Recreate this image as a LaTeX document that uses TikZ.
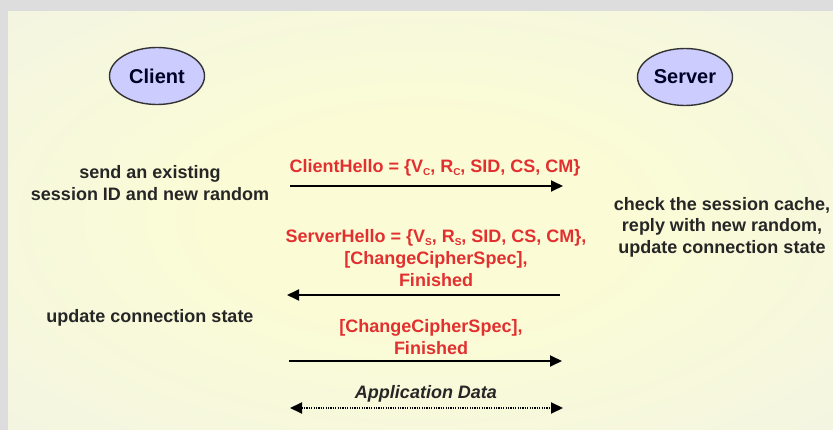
\documentclass[tikz,border=0pt]{standalone}
\usepackage{fontspec}
\setmainfont{Liberation Sans}
\usetikzlibrary{arrows.meta,shapes.geometric}
\definecolor{msgred}{RGB}{226,48,48}
\definecolor{peer}{RGB}{204,204,255}
\definecolor{frame}{RGB}{221,221,221}
\definecolor{glowin}{RGB}{251,252,213}
\definecolor{glowout}{RGB}{238,240,234}
% soft yellow glow that fades to grey-green towards the panel edges
\pgfdeclareradialshading{panelglow}{\pgfpoint{0bp}{0bp}}{%
  color(0bp)=(glowin); color(12bp)=(glowin);
  color(52bp)=(glowout); color(72bp)=(glowout)}
\tikzset{
  peernode/.style={ellipse, draw=black!80, line width=1.4pt, fill=peer,
    minimum width=95pt, minimum height=57pt, inner sep=0pt,
    font=\bfseries\fontsize{20}{24}\selectfont, text=black!85!blue},
  note/.style={align=center, inner sep=0pt, text=black!85,
    font=\bfseries\fontsize{18}{21.5}\selectfont},
  msg/.style={align=center, inner sep=0pt, text=msgred,
    font=\bfseries\fontsize{18}{22}\selectfont},
  flow/.style={line width=1.8pt, -{Triangle[length=12pt,width=11pt]}},
  dataflow/.style={line width=2pt, dash pattern=on 1.2pt off 1.2pt,
    {Triangle[length=12pt,width=11pt]}-{Triangle[length=12pt,width=11pt]}}
}
\newcommand{\sub}[1]{\raisebox{-0.3ex}{\fontsize{10}{10}\selectfont #1}}
\begin{document}
\begin{tikzpicture}[x=1pt,y=-1pt]
\useasboundingbox (0,0) rectangle (833,430);
% backdrop and softly lit panel
\fill[frame] (0,0) rectangle (833,430);
\shade[shading=panelglow] (8,12) rectangle (833,430);

% the two peers
\node[peernode] (client) at (157,76) {Client};
\node[peernode] (server) at (685,77) {Server};

% endpoints of the message arrows
\coordinate (c1) at (290,186);  \coordinate (s1) at (563,186);
\coordinate (s2) at (560,295);  \coordinate (c2) at (287,295);
\coordinate (c3) at (289,361);  \coordinate (s3) at (562,361);
\coordinate (c4) at (290,408);  \coordinate (s4) at (563,408);

% side notes
\node[note] (n1) at (150,183) {send an existing\\session ID and new random};
\node[note] (n2) at (722,227) {check the session cache,\\reply with new random,\\update connection state};
\node[note] (n3) at (150,318) {update connection state};

% message labels
\node[msg] (m1) at (435,168)
  {ClientHello = \{V\sub{C}, R\sub{C}, SID, CS, CM\}};
\node[msg] (m2) at (436,258)
  {ServerHello = \{V\sub{S}, R\sub{S}, SID, CS, CM\},\\
   {[}ChangeCipherSpec{]},\\Finished};
\node[msg] (m3) at (431,337) {{[}ChangeCipherSpec{]},\\Finished};
\node[inner sep=0pt, text=black!85,
      font=\bfseries\itshape\fontsize{18}{20}\selectfont] (m4) at (426,394)
  {Application Data};

% arrows
\draw[flow] (c1) -- (s1);
\draw[flow] (s2) -- (c2);
\draw[flow] (c3) -- (s3);
\draw[dataflow] (c4) -- (s4);
\end{tikzpicture}
\end{document}
